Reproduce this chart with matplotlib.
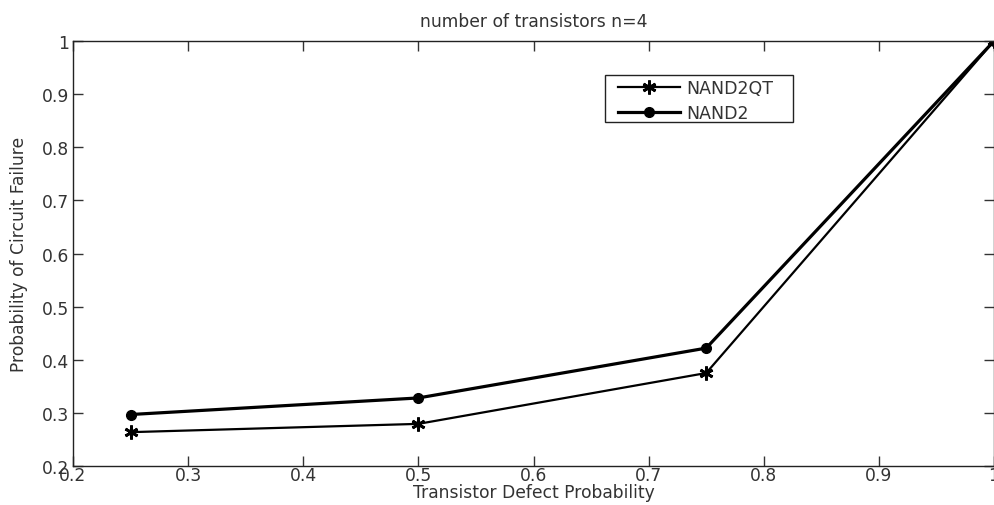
import matplotlib
matplotlib.use("Agg")
import matplotlib.pyplot as plt
from matplotlib.patches import Rectangle

defect_prob = [0.25, 0.5, 0.75, 1.0]
nand2qt = [0.2637, 0.2793, 0.3750, 1.0]
nand2 = [0.2969, 0.3281, 0.4219, 1.0]
xticks = [0.2, 0.3, 0.4, 0.5, 0.6, 0.7, 0.8, 0.9, 1.0]
yticks = [0.2, 0.3, 0.4, 0.5, 0.6, 0.7, 0.8, 0.9, 1.0]
xtick_labels = ["0.2", "0.3", "0.4", "0.5", "0.6", "0.7", "0.8", "0.9", "1"]
ytick_labels = ["0.2", "0.3", "0.4", "0.5", "0.6", "0.7", "0.8", "0.9", "1"]

plt.rcParams['font.family'] = ['DejaVu Sans']
TXT = '#333333'

W, H = 994, 506
fig = plt.figure(figsize=(W/100, H/100), dpi=100)
fig.patch.set_facecolor('white')
ax = fig.add_axes([73/W, 39/H, 921/W, 425/H])

ax.plot(defect_prob, nand2qt, color='black', lw=1.6, marker=(6, 2, 0),
        markersize=10, markeredgewidth=2.0, label='NAND2QT')
ax.plot(defect_prob, nand2, color='black', lw=2.3, marker='o',
        markersize=7, label='NAND2')

ax.set_xlim(0.2, 1.0)
ax.set_ylim(0.2, 1.0)
ax.set_xticks(xticks)
ax.set_xticklabels(xtick_labels)
ax.set_yticks(yticks)
ax.set_yticklabels(ytick_labels)
ax.tick_params(direction='in', length=7, width=1, top=True, right=True,
               labelsize=12.3, colors=TXT, pad=2)
ax.tick_params(axis='x', pad=0)
ax.tick_params(axis='y', pad=3)
for s in ax.spines.values():
    s.set_linewidth(1.0)
    s.set_color('#222222')

ax.set_title('number of transistors n=4', fontsize=12.3, pad=11, color=TXT)
ax.set_xlabel('Transistor Defect Probability', fontsize=12.3, labelpad=-1, color=TXT)
ax.set_ylabel('Probability of Circuit Failure', fontsize=12.3, labelpad=10, color=TXT)

leg = ax.legend(loc='upper left', bbox_to_anchor=(618/W, 1 - 80/H),
                bbox_transform=fig.transFigure, fontsize=12.5, frameon=False,
                handlelength=3.55, handletextpad=0.4, borderpad=0,
                labelspacing=0.38, borderaxespad=0)
for t in leg.get_texts():
    t.set_color(TXT)

fig.add_artist(Rectangle((605/W, 1 - 123/H), 188/W, 47/H, transform=fig.transFigure,
                         fill=False, edgecolor='#222222', linewidth=1.0))

fig.savefig('out.png', dpi=100, facecolor='white')
